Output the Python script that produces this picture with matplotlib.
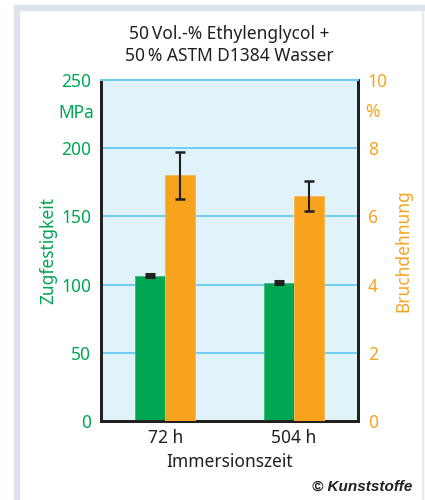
import matplotlib

matplotlib.use("Agg")
import matplotlib.pyplot as plt
from matplotlib.patches import Rectangle
import numpy as np

plt.rcParams["font.family"] = ["Noto Sans", "DejaVu Sans"]

# data
groups = ["72 h", "504 h"]
strength = [106.5, 101.5]          # Zugfestigkeit, MPa
strength_err = [1.0, 1.0]
elongation = [7.2, 6.6]            # Bruchdehnung, %
elongation_err = [0.68, 0.44]

GREEN = "#00a651"
ORANGE = "#f7a31e"
BG = "#e0f2fa"
GRID = "#6fcdf2"
DARK = "#231f20"

fig = plt.figure(figsize=(4.25, 5.0), dpi=100)

# grey frame of the figure box
fig.patches.append(Rectangle((14 / 425, 0), 5 / 425, 490 / 500, transform=fig.transFigure,
                             color="#dde3ea", zorder=0))
fig.patches.append(Rectangle((14 / 425, 490 / 500), 411 / 425, 5 / 500, transform=fig.transFigure,
                             color="#dde3ea", zorder=0))
fig.patches.append(Rectangle((422 / 425, 0), 1 / 425, 490 / 500, transform=fig.transFigure,
                             color="#e6eaef", zorder=0))

ax = fig.add_axes([101 / 425, 79 / 500, 257 / 425, 341 / 500])
ax.set_facecolor(BG)
ax2 = ax.twinx()

x = np.arange(len(groups))
w = 0.234

ax.set_ylim(0, 250)
ax.set_yticks([0, 50, 100, 150, 200, 250])
ax2.set_ylim(0, 10)
ax2.set_yticks([0, 2, 4, 6, 8, 10])
ax.set_xlim(-0.5, 1.5)

for yv in [50, 100, 150, 200, 250]:
    ax.axhline(yv, color=GRID, lw=1.4, zorder=1)

ax.bar(x - w / 2, strength, w, color=GREEN, edgecolor="#3dbb74", lw=0.6, zorder=3)
ax.errorbar(x - w / 2, strength, yerr=strength_err, fmt="none", ecolor=DARK,
            elinewidth=1.5, capsize=3.3, capthick=2.2, zorder=4)
ax2.bar(x + w / 2, elongation, w, color=ORANGE, edgecolor="#f9b84f", lw=0.6, zorder=3)
ax2.errorbar(x + w / 2, elongation, yerr=elongation_err, fmt="none", ecolor=DARK,
             elinewidth=1.5, capsize=3.3, capthick=1.8, zorder=4)

ax.set_xticks(x)
ax.set_xticklabels(groups, fontsize=12.5, color="#231f20")
ax.tick_params(axis="x", length=0, pad=6)
ax.tick_params(axis="y", length=0, pad=7, labelsize=12.5, labelcolor=GREEN)
ax2.tick_params(axis="y", length=0, pad=7, labelsize=12.5, labelcolor=ORANGE)

for a in (ax, ax2):
    for side in ("left", "right", "bottom"):
        a.spines[side].set_color(DARK)
        a.spines[side].set_linewidth(2)
    a.spines["top"].set_color(GRID)
    a.spines["top"].set_linewidth(1.4)

ax.set_xlabel("Immersionszeit", fontsize=12.5, color="#231f20", labelpad=4)
ax.set_ylabel("Zugfestigkeit", fontsize=12.5, color=GREEN, labelpad=3)
ax2.set_ylabel("Bruchdehnung", fontsize=12.5, color=ORANGE, labelpad=5)

ax.text(-0.027, 226, "MPa", transform=ax.get_yaxis_transform(), ha="right", va="center",
        fontsize=12.5, color=GREEN)
ax2.text(1.027, 9.05, "%", transform=ax2.get_yaxis_transform(), ha="left", va="center",
         fontsize=12.5, color=ORANGE)

fig.text(229 / 425, 1 - 45 / 500, "50\u2009Vol.-% Ethylenglycol +\n50\u2009% ASTM D1384 Wasser",
         ha="center", va="center", fontsize=12.5, color="#231f20", linespacing=1.3)
fig.text(412 / 425, 1 - 487 / 500, "© Kunststoffe", ha="right", va="center",
         fontsize=11, fontweight="bold", fontstyle="italic", color="#231f20",
         family=["Liberation Sans", "DejaVu Sans"])

fig.savefig("out.png", dpi=100)
